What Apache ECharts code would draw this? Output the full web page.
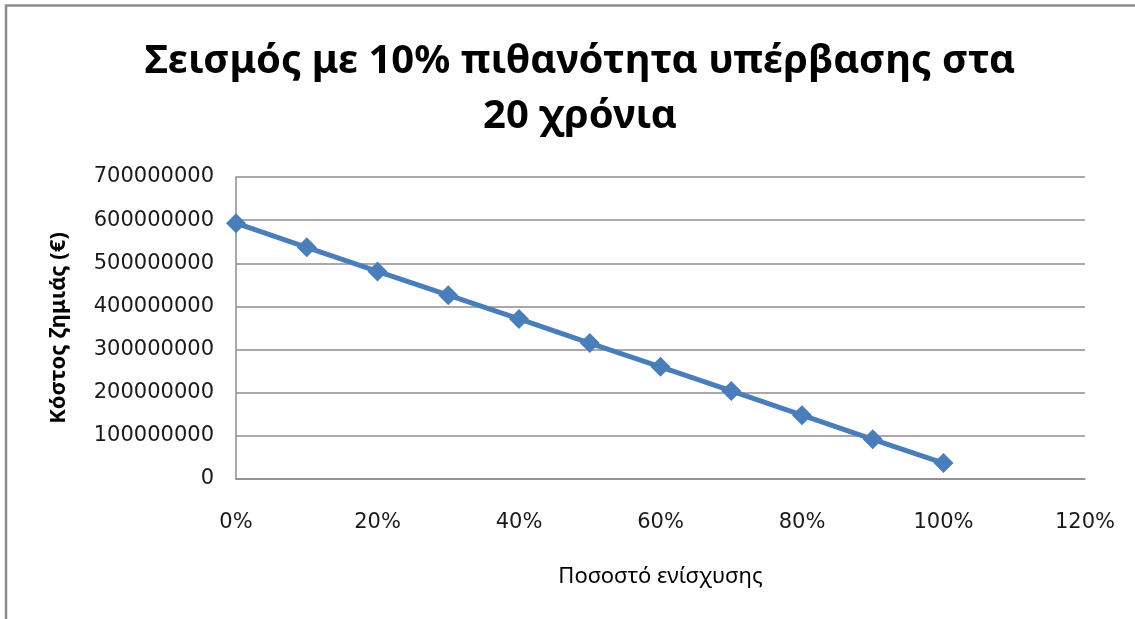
<!DOCTYPE html>
<html>
<head>
<meta charset="utf-8">
<script src="https://cdn.jsdelivr.net/npm/echarts@6/dist/echarts.min.js"></script>
<style>
  html, body { margin: 0; padding: 0; background: #ffffff; }
  #chart { width: 1135px; height: 619px; }
</style>
</head>
<body>
<div id="chart"></div>
<script>
// Strengthening ratio (fraction of full retrofit) and the resulting damage cost in euros
const strengthening = [0, 0.1, 0.2, 0.3, 0.4, 0.5, 0.6, 0.7, 0.8, 0.9, 1.0];
const damageCost = [593000000, 537000000, 481000000, 426000000, 371000000, 315000000,
                    260000000, 204000000, 148000000, 92000000, 37000000];

const titleText = 'Σεισμός με 10% πιθανότητα υπέρβασης στα\n20 χρόνια';
const xAxisTitle = 'Ποσοστό ενίσχυσης';
const yAxisTitle = 'Κόστος ζημιάς (€)';

const points = strengthening.map((x, i) => [x, damageCost[i]]);

const chart = echarts.init(document.getElementById('chart'), null, { renderer: 'canvas' });

const tickFont = { fontFamily: 'DejaVu Sans', fontSize: 21, color: '#1a1a1a' };

chart.setOption({
  backgroundColor: '#ffffff',
  animation: false,
  graphic: [{
    type: 'rect',
    shape: { x: 6, y: 5.5, width: 1200, height: 700 },
    style: { fill: 'none', stroke: '#8c8c8c', lineWidth: 2.5 },
    silent: true
  }],
  title: {
    text: titleText,
    left: 575,
    top: 29,
    textAlign: 'center',
    textStyle: {
      fontFamily: 'Noto Sans',
      fontWeight: 'bold',
      fontSize: 40,
      lineHeight: 55,
      color: '#000'
    }
  },
  grid: { left: 236, right: 50, top: 177, bottom: 140, containLabel: false },
  xAxis: {
    type: 'value',
    min: 0,
    max: 1.2,
    interval: 0.2,
    name: xAxisTitle,
    nameLocation: 'middle',
    nameGap: 87,
    nameTextStyle: { fontFamily: 'Noto Sans', fontSize: 22, color: '#000' },
    axisLine: { show: true, lineStyle: { color: '#8c8c8c', width: 1.5 } },
    axisTick: { show: false },
    splitLine: { show: false },
    axisLabel: {
      ...tickFont,
      margin: 33,
      formatter: v => Math.round(v * 100) + '%'
    }
  },
  yAxis: {
    type: 'value',
    min: 0,
    max: 700000000,
    interval: 100000000,
    name: yAxisTitle,
    nameLocation: 'middle',
    nameGap: 166,
    nameRotate: 90,
    nameTextStyle: { fontFamily: 'Noto Sans', fontWeight: 'bold', fontSize: 22, color: '#000' },
    axisLine: { show: true, lineStyle: { color: '#8c8c8c', width: 1.5 } },
    axisTick: { show: false },
    splitLine: { show: true, lineStyle: { color: '#8c8c8c', width: 1.5 } },
    axisLabel: { ...tickFont, margin: 22, formatter: v => String(v) }
  },
  series: [{
    type: 'line',
    data: points,
    symbol: 'diamond',
    symbolSize: 20,
    itemStyle: { color: '#4a7ebb' },
    lineStyle: { color: '#4a7ebb', width: 5 },
    z: 3
  }]
});
</script>
</body>
</html>
